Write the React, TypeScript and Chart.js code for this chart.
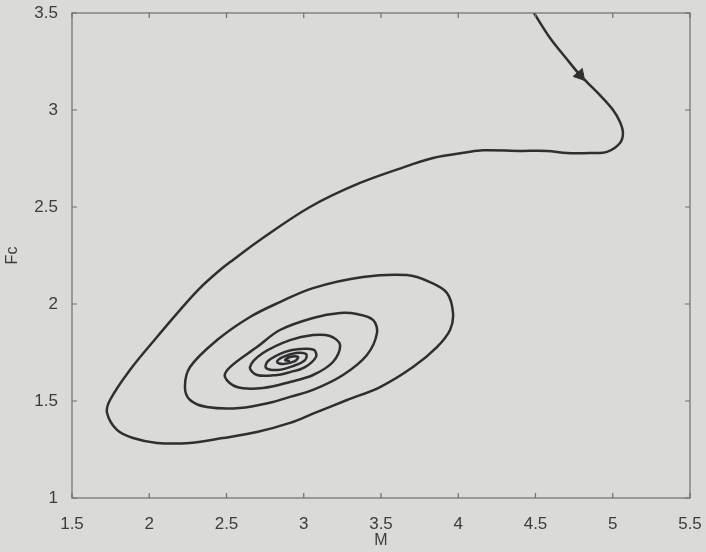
import React, { useEffect, useRef } from "react";
import { Chart, registerables } from "chart.js";

Chart.register(...registerables);

// Trajectory in the (M, Fc) phase plane
const mValues = [
  4.49, 4.594, 4.697, 4.788, 4.833, 4.917, 5.002, 5.047, 5.066, 5.047, 4.963, 4.853, 4.704, 4.574, 4.4, 4.16, 4.057,
  3.837, 3.688, 3.364, 3.04, 2.717, 2.542, 2.458, 2.328, 2.2, 2.05, 1.875, 1.746, 1.727, 1.791, 1.895, 2.05, 2.264,
  2.477, 2.697, 2.911, 3.06, 3.28, 3.494, 3.707, 3.862, 3.947, 3.966, 3.927, 3.817, 3.668, 3.383, 3.06, 2.846, 2.652,
  2.439, 2.264, 2.231, 2.264, 2.374, 2.587, 2.801, 2.911, 3.06, 3.254, 3.409, 3.474, 3.448, 3.345, 3.235, 3.06, 2.846,
  2.697, 2.523, 2.49, 2.568, 2.736, 2.911, 3.06, 3.189, 3.235, 3.17, 3.06, 2.911, 2.736, 2.652, 2.697, 2.827, 2.911,
  3.008, 3.079, 3.066, 2.976, 2.879, 2.769, 2.756, 2.833, 2.93, 3.008, 3.015, 2.95, 2.866, 2.827, 2.866, 2.943, 2.963,
  2.911, 2.879, 2.911,
];
const fcValues = [
  3.5, 3.371, 3.268, 3.18, 3.144, 3.077, 3.0, 2.938, 2.881, 2.83, 2.784, 2.778, 2.778, 2.789, 2.789, 2.792, 2.782,
  2.753, 2.716, 2.624, 2.5, 2.33, 2.227, 2.175, 2.082, 1.97, 1.83, 1.66, 1.505, 1.438, 1.351, 1.309, 1.284, 1.284,
  1.309, 1.34, 1.387, 1.435, 1.505, 1.572, 1.675, 1.778, 1.866, 1.954, 2.057, 2.113, 2.149, 2.139, 2.082, 2.01, 1.933,
  1.814, 1.675, 1.572, 1.505, 1.469, 1.464, 1.495, 1.521, 1.557, 1.634, 1.737, 1.851, 1.918, 1.948, 1.954, 1.928, 1.866,
  1.778, 1.675, 1.624, 1.572, 1.567, 1.598, 1.634, 1.701, 1.789, 1.835, 1.84, 1.814, 1.747, 1.675, 1.634, 1.634, 1.649,
  1.675, 1.727, 1.763, 1.768, 1.753, 1.706, 1.67, 1.66, 1.68, 1.711, 1.742, 1.747, 1.727, 1.701, 1.691, 1.706, 1.727,
  1.727, 1.711, 1.706,
];
const arrowIndex = 3;
const arrowRotation = 139;

const xTickValues = [1.5, 2, 2.5, 3, 3.5, 4, 4.5, 5, 5.5];
const xTickLabels = ["1.5", "2", "2.5", "3", "3.5", "4", "4.5", "5", "5.5"];
const yTickValues = [1, 1.5, 2, 2.5, 3, 3.5];
const yTickLabels = ["1", "1.5", "2", "2.5", "3", "3.5"];

const BG = "#dadad8";
const FRAME = "#6e6e6e";
const LINE = "#2f2f2f";
const TEXT = "#3c3c3c";
const FONT = "'Liberation Sans', Arial, sans-serif";

const framePlugin = {
  id: "frame",
  beforeDraw(chart: any) {
    const { ctx, width, height } = chart;
    ctx.save();
    ctx.fillStyle = BG;
    ctx.fillRect(0, 0, width, height);
    ctx.restore();
  },
  afterDatasetsDraw(chart: any) {
    const { ctx, chartArea } = chart;
    const { left, right, top, bottom } = chartArea;
    const xs = chart.scales.x;
    const ys = chart.scales.y;
    const len = 5;
    ctx.save();
    ctx.strokeStyle = FRAME;
    ctx.lineWidth = 1.2;
    ctx.strokeRect(left, top, right - left, bottom - top);
    ctx.beginPath();
    xTickValues.forEach((v) => {
      const px = xs.getPixelForValue(v);
      ctx.moveTo(px, bottom);
      ctx.lineTo(px, bottom - len);
      ctx.moveTo(px, top);
      ctx.lineTo(px, top + len);
    });
    yTickValues.forEach((v) => {
      const py = ys.getPixelForValue(v);
      ctx.moveTo(left, py);
      ctx.lineTo(left + len, py);
      ctx.moveTo(right, py);
      ctx.lineTo(right - len, py);
    });
    ctx.stroke();
    ctx.restore();
  },
};

export default function App() {
  const ref = useRef<HTMLCanvasElement | null>(null);

  useEffect(() => {
    if (!ref.current) return;
    const points = mValues.map((m, i) => ({ x: m, y: fcValues[i] }));
    const chart = new Chart(ref.current, {
      type: "scatter",
      data: {
        datasets: [
          {
            data: points,
            showLine: true,
            borderColor: LINE,
            borderWidth: 2.5,
            pointRadius: 0,
            tension: 0.35,
            fill: false,
          },
          {
            data: [points[arrowIndex]],
            showLine: false,
            pointStyle: "triangle",
            rotation: arrowRotation,
            pointRadius: 7,
            backgroundColor: LINE,
            borderColor: LINE,
            borderWidth: 1,
          },
        ],
      },
      options: {
        responsive: false,
        animation: false,
        events: [],
        layout: { padding: { top: 13, right: 16, left: 0, bottom: 0 } },
        plugins: { legend: { display: false }, tooltip: { enabled: false } },
        scales: {
          x: {
            type: "linear",
            min: 1.5,
            max: 5.5,
            grid: { display: false },
            border: { display: false },
            afterBuildTicks: (s: any) => {
              s.ticks = xTickValues.map((v) => ({ value: v }));
            },
            afterFit: (s: any) => {
              s.height = 54;
              s.paddingLeft = 0;
              s.paddingRight = 0;
            },
            ticks: {
              color: TEXT,
              font: { family: FONT, size: 17 },
              padding: 8,
              maxRotation: 0,
              callback: (_v: any, i: number) => xTickLabels[i],
            },
            title: {
              display: true,
              text: "M",
              color: TEXT,
              font: { family: FONT, size: 16 },
              padding: { top: 0, bottom: 2 },
            },
          },
          y: {
            type: "linear",
            min: 1,
            max: 3.5,
            grid: { display: false },
            border: { display: false },
            afterBuildTicks: (s: any) => {
              s.ticks = yTickValues.map((v) => ({ value: v }));
            },
            afterFit: (s: any) => {
              s.width = 72;
              s.paddingTop = 0;
              s.paddingBottom = 0;
            },
            ticks: {
              color: TEXT,
              font: { family: FONT, size: 17 },
              padding: 6,
              callback: (_v: any, i: number) => yTickLabels[i],
            },
            title: {
              display: true,
              text: "Fc",
              color: TEXT,
              font: { family: FONT, size: 16 },
              padding: { top: 3, bottom: 0 },
            },
          },
        },
      },
      plugins: [framePlugin],
    } as any);
    return () => chart.destroy();
  }, []);

  return (
    <div style={{ position: "fixed", left: 0, top: 0, width: 706, height: 552, background: BG }}>
      <canvas ref={ref} width={706} height={552} style={{ display: "block", width: 706, height: 552 }} />
    </div>
  );
}
